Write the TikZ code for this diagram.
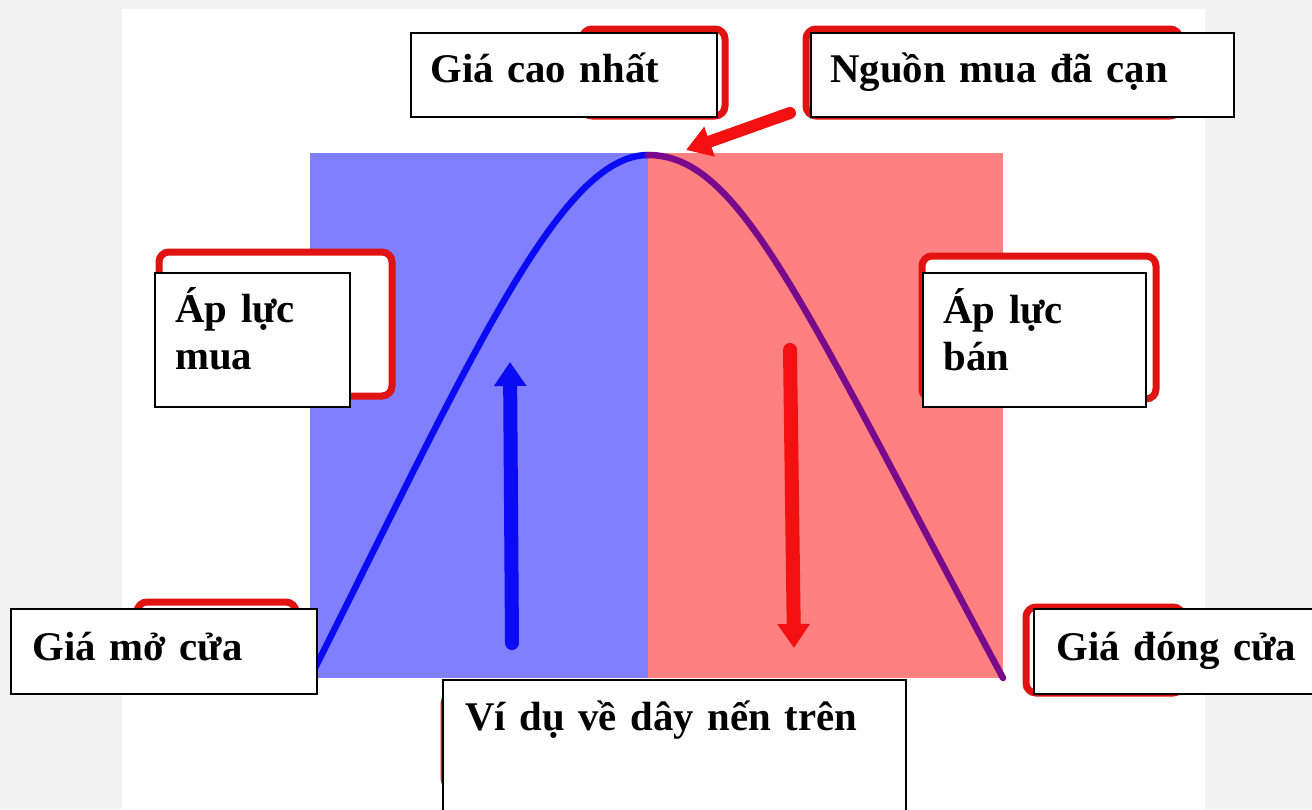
\documentclass[tikz,border=0pt]{standalone}
\usepackage{fontspec}
\setmainfont{Liberation Serif}
\usetikzlibrary{positioning,arrows.meta,fit,shadows}

\definecolor{pagegray}{HTML}{F2F2F2}
\definecolor{buyblue}{HTML}{8080FF}
\definecolor{sellred}{HTML}{FF8080}
\definecolor{calred}{HTML}{E01212}
\definecolor{arrred}{HTML}{F21010}
\definecolor{pathblue}{HTML}{0A0AF5}
\definecolor{pathpurple}{HTML}{7A0A8C}

\begin{document}
\begin{tikzpicture}[
  x=0.02cm, y=-0.02cm,
  callout/.style={draw=calred, line width=0.14cm, rounded corners=0.2cm, fill=white,
                  inner sep=0pt, drop shadow={shadow xshift=0.05cm, shadow yshift=-0.05cm, opacity=0.35}},
  box/.style={draw, line width=0.04cm, fill=white, inner sep=0pt},
  lbl/.style={font=\fontsize{23.2}{27.3}\selectfont\bfseries, inner sep=0pt,
              anchor=base west, text width=12cm, align=left},
  price/.style={line width=0.13cm, line cap=round},
  bigarrow/.style={line width=0.28cm, line cap=round, -{Triangle[width=0.62cm,length=0.48cm]}}
]
\useasboundingbox (0,0) rectangle (1312,809);
\clip (0,0) rectangle (1312,809);
% page and candle halves
\fill[pagegray] (0,0) rectangle (1312,809);
\fill[white] (122,9) rectangle (1205,809);
\fill[buyblue] (310,153) rectangle (648,678);
\fill[sellred] (648,153) rectangle (1003,678);
% price path
\coordinate (open) at (310,678);
\coordinate (peak) at (648,155);
\coordinate (close) at (1003,678);
\draw[price, pathblue] (open) .. controls (470,360) and (560,155) .. (peak);
\draw[price, pathpurple] (peak) .. controls (740,155) and (800,300) .. (close);
% pressure arrows
\coordinate (upS) at (512,643);
\coordinate (upE) at (510,362);
\coordinate (dnS) at (790,350);
\coordinate (dnE) at (794,648);
\draw[bigarrow, pathblue] (upS) -- (upE);
\draw[bigarrow, arrred] (dnS) -- (dnE);
% red callouts behind the labels
\node[callout, fit={(582,29) (725,116)}] (hiC) {};
\node[callout, fit={(806,29) (1180,116)}] (srcC) {};
\node[callout, fit={(159,252) (392,396)}] (buyC) {};
\node[callout, fit={(922,256) (1156,399)}] (sellC) {};
\node[callout, fit={(137,602) (296,688)}] (openC) {};
\node[callout, fit={(1026,607) (1183,693)}] (closeC) {};
\node[callout, fit={(444,694) (898,788)}] (exC) {};
% label boxes
\node[box, fit={(411,33) (717,117)}] (hi) {};
\node[box, fit={(811,33) (1234,117)}] (src) {};
\node[box, fit={(155,273) (350,407)}] (buy) {};
\node[box, fit={(923,273) (1146,407)}] (sell) {};
\node[box, fit={(11,609) (317,694)}] (opn) {};
\node[box, fit={(1034,609) (1330,694)}] (cls) {};
\node[box, fit={(443,680) (906,830)}] (ex) {};
\node[lbl] (hiT) at (430,82) {Giá cao nhất};
\node[lbl] (srcT) at (830,82) {Nguồn mua đã cạn};
\node[lbl] (buyT) at (175,322) {Áp lực\\mua};
\node[lbl] (sellT) at (943,323) {Áp lực\\bán};
\node[lbl] (opnT) at (32,660) {Giá mở cửa};
\node[lbl] (clsT) at (1056,660) {Giá đóng cửa};
\node[lbl] (exT) at (465,730) {Ví dụ về dây nến trên};
% exhaustion pointer
\coordinate (srcTail) at (790,113);
\coordinate (ptip) at (686,150);
\draw[arrred, line width=0.24cm, line cap=round, -{Triangle[width=0.6cm,length=0.5cm]}] (srcTail) -- (ptip);
\end{tikzpicture}
\end{document}
